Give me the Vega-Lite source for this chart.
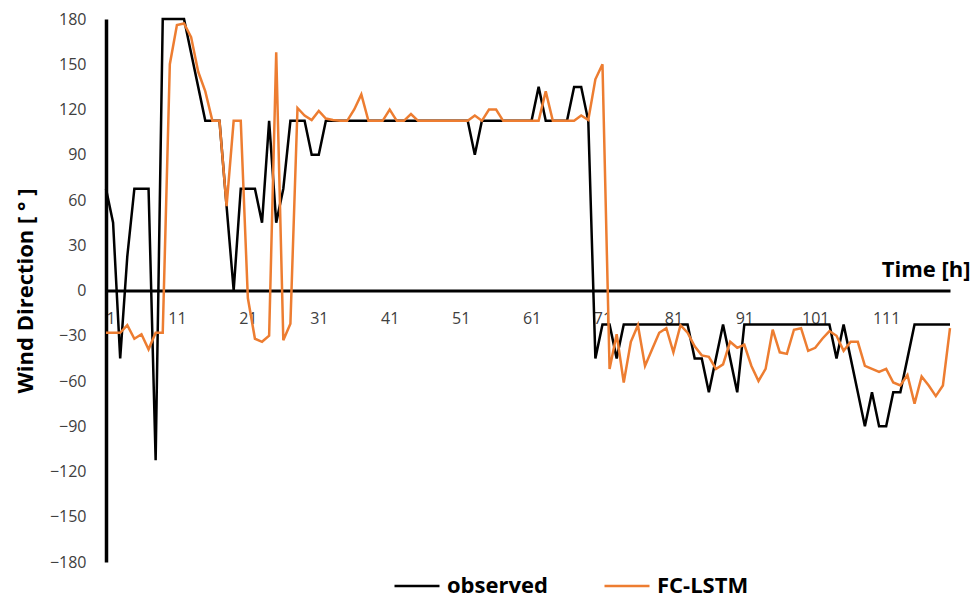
{
  "$schema": "https://vega.github.io/schema/vega-lite/v6.json",
  "width": 844,
  "height": 543,
  "autosize": "none",
  "padding": {"left": 106, "top": 19, "right": 26, "bottom": 41},
  "background": "#ffffff",
  "config": {"view": {"stroke": null}, "font": "Open Sans"},
  "data": {"values": [
    {"t":1,"observed":67.5,"FC-LSTM":-28},
    {"t":2,"observed":45,"FC-LSTM":-28},
    {"t":3,"observed":-45,"FC-LSTM":-28},
    {"t":4,"observed":22.5,"FC-LSTM":-23},
    {"t":5,"observed":67.5,"FC-LSTM":-32},
    {"t":6,"observed":67.5,"FC-LSTM":-29},
    {"t":7,"observed":67.5,"FC-LSTM":-39},
    {"t":8,"observed":-112.5,"FC-LSTM":-28},
    {"t":9,"observed":180,"FC-LSTM":-28},
    {"t":10,"observed":180,"FC-LSTM":150},
    {"t":11,"observed":180,"FC-LSTM":176},
    {"t":12,"observed":180,"FC-LSTM":177},
    {"t":13,"observed":157.5,"FC-LSTM":168},
    {"t":14,"observed":135,"FC-LSTM":145},
    {"t":15,"observed":112.5,"FC-LSTM":132},
    {"t":16,"observed":112.5,"FC-LSTM":112.5},
    {"t":17,"observed":112.5,"FC-LSTM":112.5},
    {"t":18,"observed":56,"FC-LSTM":56},
    {"t":19,"observed":0,"FC-LSTM":112.5},
    {"t":20,"observed":67.5,"FC-LSTM":112.5},
    {"t":21,"observed":67.5,"FC-LSTM":-5},
    {"t":22,"observed":67.5,"FC-LSTM":-32},
    {"t":23,"observed":45,"FC-LSTM":-34},
    {"t":24,"observed":112.5,"FC-LSTM":-30},
    {"t":25,"observed":45,"FC-LSTM":158},
    {"t":26,"observed":67.5,"FC-LSTM":-33},
    {"t":27,"observed":112.5,"FC-LSTM":-22},
    {"t":28,"observed":112.5,"FC-LSTM":121},
    {"t":29,"observed":112.5,"FC-LSTM":116},
    {"t":30,"observed":90,"FC-LSTM":113},
    {"t":31,"observed":90,"FC-LSTM":119},
    {"t":32,"observed":112.5,"FC-LSTM":114},
    {"t":33,"observed":112.5,"FC-LSTM":113},
    {"t":34,"observed":112.5,"FC-LSTM":112.5},
    {"t":35,"observed":112.5,"FC-LSTM":112.5},
    {"t":36,"observed":112.5,"FC-LSTM":120},
    {"t":37,"observed":112.5,"FC-LSTM":130},
    {"t":38,"observed":112.5,"FC-LSTM":112.5},
    {"t":39,"observed":112.5,"FC-LSTM":112.5},
    {"t":40,"observed":112.5,"FC-LSTM":112.5},
    {"t":41,"observed":112.5,"FC-LSTM":120},
    {"t":42,"observed":112.5,"FC-LSTM":112.5},
    {"t":43,"observed":112.5,"FC-LSTM":112.5},
    {"t":44,"observed":112.5,"FC-LSTM":117},
    {"t":45,"observed":112.5,"FC-LSTM":112.5},
    {"t":46,"observed":112.5,"FC-LSTM":112.5},
    {"t":47,"observed":112.5,"FC-LSTM":112.5},
    {"t":48,"observed":112.5,"FC-LSTM":112.5},
    {"t":49,"observed":112.5,"FC-LSTM":112.5},
    {"t":50,"observed":112.5,"FC-LSTM":112.5},
    {"t":51,"observed":112.5,"FC-LSTM":112.5},
    {"t":52,"observed":112.5,"FC-LSTM":112.5},
    {"t":53,"observed":90,"FC-LSTM":116},
    {"t":54,"observed":112.5,"FC-LSTM":112.5},
    {"t":55,"observed":112.5,"FC-LSTM":120},
    {"t":56,"observed":112.5,"FC-LSTM":120},
    {"t":57,"observed":112.5,"FC-LSTM":112.5},
    {"t":58,"observed":112.5,"FC-LSTM":112.5},
    {"t":59,"observed":112.5,"FC-LSTM":112.5},
    {"t":60,"observed":112.5,"FC-LSTM":112.5},
    {"t":61,"observed":112.5,"FC-LSTM":112.5},
    {"t":62,"observed":135,"FC-LSTM":112.5},
    {"t":63,"observed":112.5,"FC-LSTM":132},
    {"t":64,"observed":112.5,"FC-LSTM":112.5},
    {"t":65,"observed":112.5,"FC-LSTM":112.5},
    {"t":66,"observed":112.5,"FC-LSTM":112.5},
    {"t":67,"observed":135,"FC-LSTM":112.5},
    {"t":68,"observed":135,"FC-LSTM":116},
    {"t":69,"observed":112.5,"FC-LSTM":113},
    {"t":70,"observed":-45,"FC-LSTM":140},
    {"t":71,"observed":-22.5,"FC-LSTM":150},
    {"t":72,"observed":-22.5,"FC-LSTM":-52},
    {"t":73,"observed":-45,"FC-LSTM":-29},
    {"t":74,"observed":-22.5,"FC-LSTM":-61},
    {"t":75,"observed":-22.5,"FC-LSTM":-34},
    {"t":76,"observed":-22.5,"FC-LSTM":-23},
    {"t":77,"observed":-22.5,"FC-LSTM":-50},
    {"t":78,"observed":-22.5,"FC-LSTM":-39},
    {"t":79,"observed":-22.5,"FC-LSTM":-28},
    {"t":80,"observed":-22.5,"FC-LSTM":-25},
    {"t":81,"observed":-22.5,"FC-LSTM":-41},
    {"t":82,"observed":-22.5,"FC-LSTM":-23},
    {"t":83,"observed":-22.5,"FC-LSTM":-28},
    {"t":84,"observed":-45,"FC-LSTM":-37},
    {"t":85,"observed":-45,"FC-LSTM":-43},
    {"t":86,"observed":-67.5,"FC-LSTM":-44},
    {"t":87,"observed":-45,"FC-LSTM":-52},
    {"t":88,"observed":-22.5,"FC-LSTM":-49},
    {"t":89,"observed":-45,"FC-LSTM":-34},
    {"t":90,"observed":-67.5,"FC-LSTM":-38},
    {"t":91,"observed":-22.5,"FC-LSTM":-36},
    {"t":92,"observed":-22.5,"FC-LSTM":-50},
    {"t":93,"observed":-22.5,"FC-LSTM":-60},
    {"t":94,"observed":-22.5,"FC-LSTM":-52},
    {"t":95,"observed":-22.5,"FC-LSTM":-26},
    {"t":96,"observed":-22.5,"FC-LSTM":-41},
    {"t":97,"observed":-22.5,"FC-LSTM":-42},
    {"t":98,"observed":-22.5,"FC-LSTM":-26},
    {"t":99,"observed":-22.5,"FC-LSTM":-25},
    {"t":100,"observed":-22.5,"FC-LSTM":-40},
    {"t":101,"observed":-22.5,"FC-LSTM":-38},
    {"t":102,"observed":-22.5,"FC-LSTM":-32},
    {"t":103,"observed":-22.5,"FC-LSTM":-27},
    {"t":104,"observed":-45,"FC-LSTM":-30},
    {"t":105,"observed":-22.5,"FC-LSTM":-40},
    {"t":106,"observed":-45,"FC-LSTM":-34},
    {"t":107,"observed":-67.5,"FC-LSTM":-34},
    {"t":108,"observed":-90,"FC-LSTM":-50},
    {"t":109,"observed":-67.5,"FC-LSTM":-52},
    {"t":110,"observed":-90,"FC-LSTM":-54},
    {"t":111,"observed":-90,"FC-LSTM":-52},
    {"t":112,"observed":-67.5,"FC-LSTM":-61},
    {"t":113,"observed":-67.5,"FC-LSTM":-63},
    {"t":114,"observed":-45,"FC-LSTM":-56},
    {"t":115,"observed":-22.5,"FC-LSTM":-75},
    {"t":116,"observed":-22.5,"FC-LSTM":-57},
    {"t":117,"observed":-22.5,"FC-LSTM":-63},
    {"t":118,"observed":-22.5,"FC-LSTM":-70},
    {"t":119,"observed":-22.5,"FC-LSTM":-63},
    {"t":120,"observed":-22.5,"FC-LSTM":-25}
  ]},
  "transform": [{"fold": ["observed", "FC-LSTM"], "as": ["series", "value"]}],
  "mark": {"type": "line", "strokeWidth": 2.5, "interpolate": "linear"},
  "encoding": {
    "x": {
      "field": "t", "type": "quantitative",
      "scale": {"domain": [1, 120], "nice": false, "zero": false},
      "axis": {
        "orient": "bottom", "offset": -271.5,
        "values": [1, 11, 21, 31, 41, 51, 61, 71, 81, 91, 101, 111],
        "domainColor": "#000000", "domainWidth": 3, "ticks": false, "grid": false,
        "labelFlush": true, "labelOverlap": false,
        "labelFontSize": 16, "labelColor": "#404040", "labelPadding": 20,
        "title": "Time [h]", "titleFontSize": 22, "titleFontWeight": "bold", "titleColor": "#000000",
        "titleAlign": "right", "titleBaseline": "alphabetic", "titleX": 864, "titleY": -14
      }
    },
    "y": {
      "field": "value", "type": "quantitative",
      "scale": {"domain": [-180, 180], "nice": false},
      "axis": {
        "values": [-180, -150, -120, -90, -60, -30, 0, 30, 60, 90, 120, 150, 180],
        "domainColor": "#000000", "domainWidth": 3.5, "ticks": false, "grid": false,
        "labelFontSize": 16, "labelColor": "#404040", "labelPadding": 20,
        "title": "Wind Direction [ ° ]", "titleFontSize": 22, "titleFontWeight": "bold", "titleColor": "#000000",
        "titlePadding": 12
      }
    },
    "color": {
      "field": "series", "type": "nominal",
      "scale": {"domain": ["observed", "FC-LSTM"], "range": ["#000000", "#ED7D31"]},
      "legend": {
        "orient": "none", "legendX": 287, "legendY": 543, "direction": "horizontal",
        "title": null, "symbolType": "stroke", "symbolSize": 2025, "symbolStrokeWidth": 2.5,
        "labelFontSize": 22, "labelFontWeight": "bold", "labelColor": "#000000",
        "columnPadding": 51, "labelOffset": 6
      }
    },
    "order": {"field": "t", "type": "quantitative"}
  }
}
